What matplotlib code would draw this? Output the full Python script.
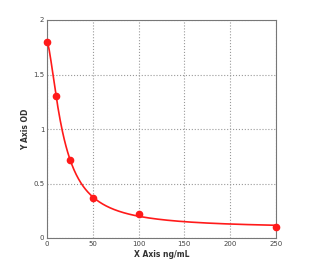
import numpy as np
import matplotlib
matplotlib.use('Agg')
import matplotlib.pyplot as plt

conc = np.array([0, 10, 25, 50, 100, 250])
od = np.array([1.80, 1.30, 0.72, 0.37, 0.22, 0.105])


def fourpl(x, a, b, c, d):
    return d + (a - d) / (1.0 + (x / c) ** b)


# crude 4PL fit: grid over c, b; a, d solved linearly
best = None
for c in np.linspace(5, 60, 221):
    for b in np.linspace(0.5, 3.0, 126):
        g = 1.0 / (1.0 + (conc / c) ** b)
        A = np.column_stack([g, 1 - g])
        coef, *_ = np.linalg.lstsq(A, od, rcond=None)
        err = np.sum((A @ coef - od) ** 2)
        if best is None or err < best[0]:
            best = (err, coef[0], b, c, coef[1])
_, a, b, c, d = best

xs = np.linspace(0, 250, 400)
ys = fourpl(xs, a, b, c, d)

fig = plt.figure(figsize=(3.22, 2.69), dpi=100)
ax = fig.add_axes([47 / 322, 1 - 238 / 269, 229 / 322, 218 / 269])

ax.plot(xs, ys, color='#ff1a1a', lw=1.2, zorder=3)
ax.plot(conc, od, 'o', color='#ff1a1a', ms=4.5, zorder=4, clip_on=False)

ax.set_xlim(0, 250)
ax.set_ylim(0, 2)
ax.set_xticks([0, 50, 100, 150, 200, 250])
ax.set_yticks([0, 0.5, 1, 1.5, 2])
ax.set_yticklabels(['0', '0.5', '1', '1.5', '2'])
ax.grid(True, ls=':', color='#999999', lw=0.8)
for s in ax.spines.values():
    s.set_color('#777777')
    s.set_linewidth(0.8)
ax.tick_params(labelsize=5, length=0, pad=2, colors='#444444')
ax.set_xlabel('X Axis ng/mL', fontsize=5.5, color='#333333', labelpad=2,
              fontweight='bold')
ax.set_ylabel('Y Axis OD', fontsize=5.5, color='#333333', labelpad=2,
              fontweight='bold')

fig.savefig('out.png', dpi=100)
